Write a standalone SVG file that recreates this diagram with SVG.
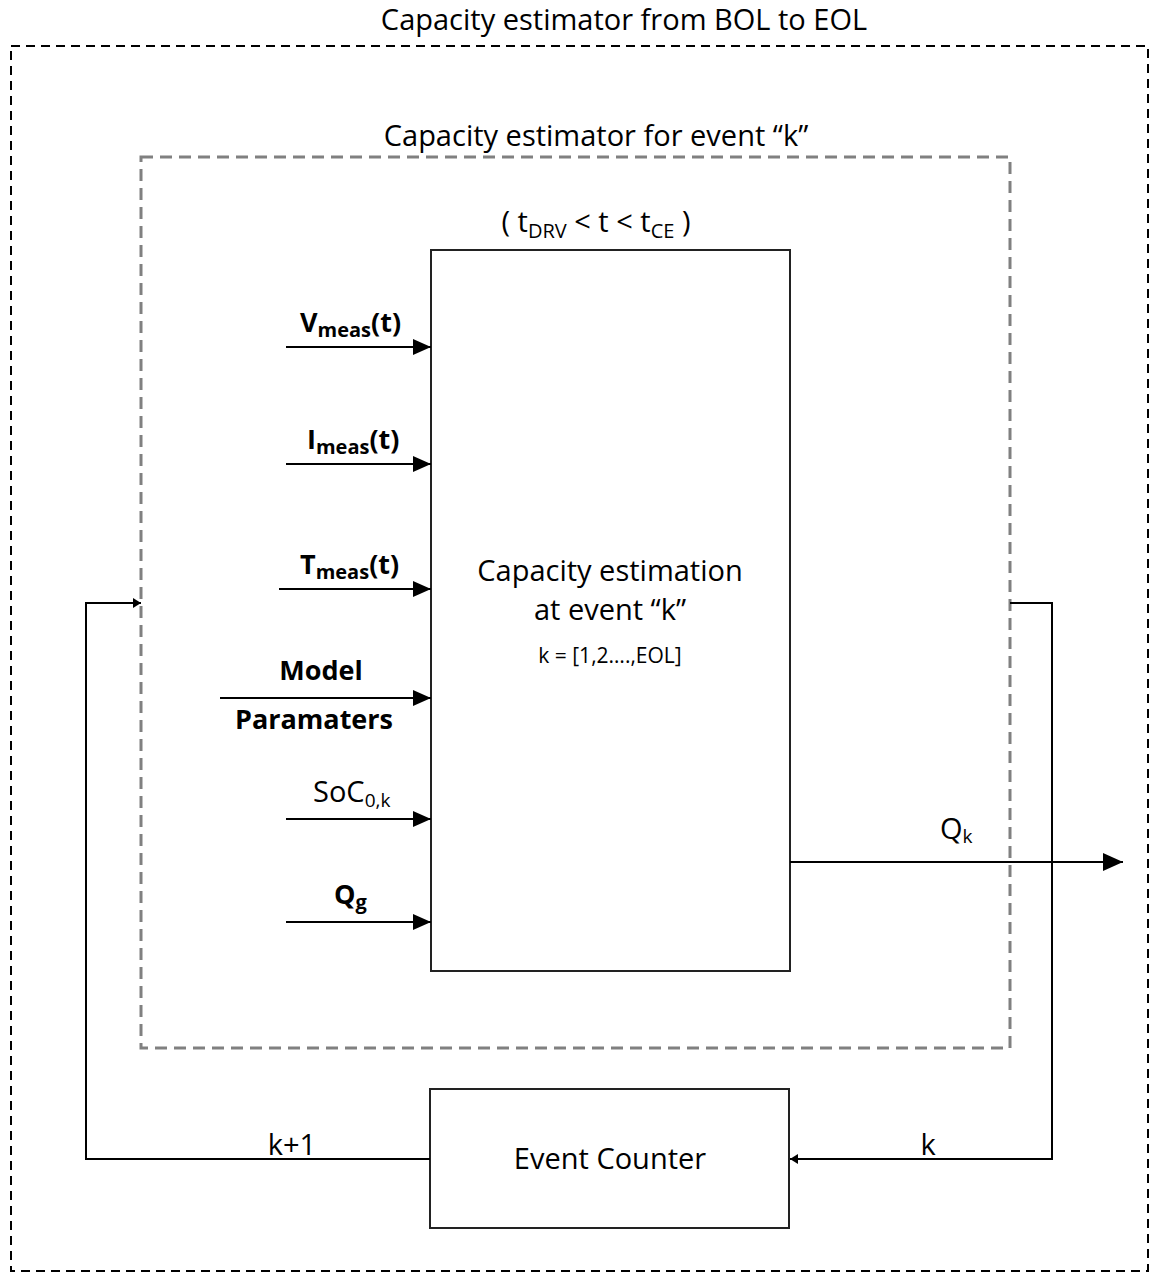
<svg xmlns="http://www.w3.org/2000/svg" width="1150" height="1273" viewBox="0 0 1150 1273">
<style>
text{font-family:"Open Sans",Lato,"Liberation Sans",sans-serif;fill:#000}
.t{font-size:29px}
.lb{font-size:27px;font-weight:bold}
.ln{fill:none;stroke:#000;stroke-width:2}
.box{fill:#fff;stroke:#222;stroke-width:2}
</style>
<defs>
<marker id="ah" viewBox="0 0 18 16" refX="18" refY="8" markerWidth="18" markerHeight="16" markerUnits="userSpaceOnUse" orient="auto"><path d="M0,0 L18,8 L0,16 Z" fill="#000"/></marker>
<marker id="ahL" viewBox="0 0 20 18" refX="20" refY="9" markerWidth="20" markerHeight="18" markerUnits="userSpaceOnUse" orient="auto"><path d="M0,0 L20,9 L0,18 Z" fill="#000"/></marker>
<marker id="ahS" viewBox="0 0 8 10" refX="8" refY="5" markerWidth="8" markerHeight="10" markerUnits="userSpaceOnUse" orient="auto"><path d="M0,0 L8,5 L0,10 Z" fill="#000"/></marker>
</defs>
<g id="outer">
<rect x="11" y="46" width="1137" height="1225" fill="none" stroke="#000" stroke-width="2" stroke-dasharray="9,6"/>
<text class="t" x="624" y="30" text-anchor="middle">Capacity estimator from BOL to EOL</text>
</g>
<g id="inner">
<rect x="141" y="157" width="869" height="891" fill="none" stroke="#808080" stroke-width="3" stroke-dasharray="12,7"/>
<text class="t" x="596" y="146" text-anchor="middle">Capacity estimator for event “k”</text>
</g>
<g id="estimator">
<rect class="box" x="431" y="250" width="359" height="721"/>
<text class="t" x="596" y="232" text-anchor="middle">( t<tspan font-size="20" dy="6">DRV</tspan><tspan dy="-6"> &lt; t &lt; t</tspan><tspan font-size="20" dy="6">CE</tspan><tspan dy="-6"> )</tspan></text>
<text class="t" x="610" y="581" text-anchor="middle">Capacity estimation</text>
<text class="t" x="610" y="620" text-anchor="middle">at event “k”</text>
<text x="610" y="663" text-anchor="middle" font-size="21">k = [1,2….,EOL]</text>
</g>
<g id="counter">
<rect class="box" x="430" y="1089" width="359" height="139"/>
<text class="t" x="610" y="1169" text-anchor="middle">Event Counter</text>
</g>
<g id="connectors">
<line class="ln" x1="286" y1="347" x2="431" y2="347" marker-end="url(#ah)"/>
<line class="ln" x1="286" y1="464" x2="431" y2="464" marker-end="url(#ah)"/>
<line class="ln" x1="279" y1="589" x2="431" y2="589" marker-end="url(#ah)"/>
<line class="ln" x1="220" y1="698" x2="431" y2="698" marker-end="url(#ah)"/>
<line class="ln" x1="286" y1="819" x2="431" y2="819" marker-end="url(#ah)"/>
<line class="ln" x1="286" y1="922" x2="431" y2="922" marker-end="url(#ah)"/>
<line class="ln" x1="790" y1="862" x2="1123" y2="862" marker-end="url(#ahL)"/>
<polyline class="ln" points="1010,603 1052,603 1052,1159 790,1159" marker-end="url(#ahS)"/>
<polyline class="ln" points="430,1159 86,1159 86,603 141,603" marker-end="url(#ahS)"/>
</g>
<g id="labels">
<text class="lb" x="300" y="332">V<tspan font-size="20" dy="5">meas</tspan><tspan dy="-5">(t)</tspan></text>
<text class="lb" x="307" y="449">I<tspan font-size="20" dy="5">meas</tspan><tspan dy="-5">(t)</tspan></text>
<text class="lb" x="300" y="574">T<tspan font-size="20" dy="5">meas</tspan><tspan dy="-5">(t)</tspan></text>
<text class="lb" x="321" y="680" text-anchor="middle">Model</text>
<text class="lb" x="314" y="729" text-anchor="middle">Paramaters</text>
<text class="t" x="313" y="802" font-size="27">SoC<tspan font-size="19" dy="5">0,k</tspan></text>
<text class="lb" x="334" y="904">Q<tspan font-size="20" dy="5">g</tspan></text>
<text class="t" x="940" y="839" font-size="27">Q<tspan font-size="19" dy="4">k</tspan></text>
<text class="t" x="928" y="1155" text-anchor="middle">k</text>
<text class="t" x="292" y="1155" text-anchor="middle">k+1</text>
</g>
</svg>
